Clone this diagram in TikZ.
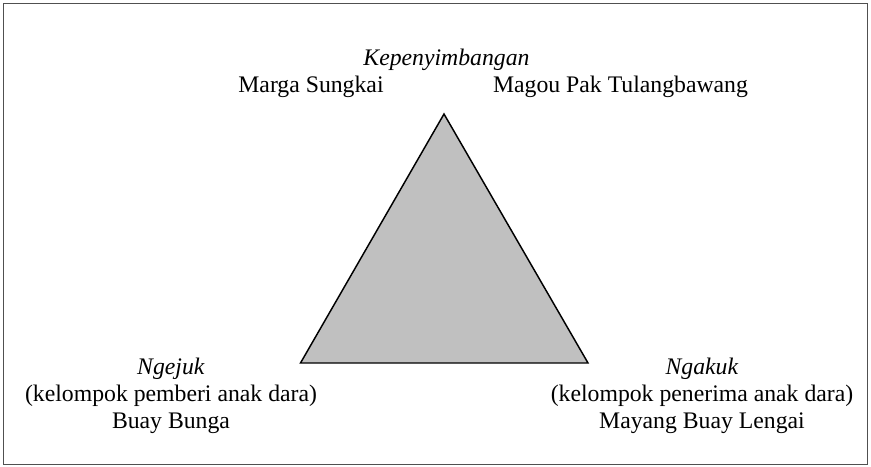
\documentclass[tikz,border=0pt]{standalone}
\usepackage{fontspec}
\setmainfont{Liberation Serif}
\usepackage{tikz}
\usetikzlibrary{
    positioning,
    calc
}
\definecolor{Tfill}{RGB}{192, 192, 192}
\definecolor{Fgray}{RGB}{80, 80, 80}
\tikzset{
    tlabel/.style={
        inner sep=0pt, align=center, text=black,
        font=\fontsize{17.8}{20.6}\selectfont
    },
    tri/.style={draw=black, line width=1.1pt, fill=Tfill, line join=miter},
    frame/.style={draw=Fgray, line width=1.1pt},
}

\begin{document}
\begin{tikzpicture}[x=0.75pt, y=-0.75pt]

    \useasboundingbox (0,0) rectangle (871,467);
    \draw [frame] (3.5,3.5) rectangle (867.5,464.5);

    % triangle corners
    \coordinate (top)   at (444,114);
    \coordinate (left)  at (300.5,363);
    \coordinate (right) at (588,363);
    \draw [tri] (top) -- (left) -- (right) -- cycle;

    \node [tlabel, anchor=base] (kep) at (446.5,65) {\textit{Kepenyimbangan}};
    \node [tlabel, anchor=base] (marga) at (311,92.5) {Marga Sungkai};
    \node [tlabel, anchor=base] (magou) at (620.5,92.5) {Magou Pak Tulangbawang};

    \node [tlabel, anchor=north] (ngejuk) at (171,357.3)
        {\textit{Ngejuk} \\ (kelompok pemberi anak dara) \\ Buay Bunga};
    \node [tlabel, anchor=north] (ngakuk) at (702,357.3)
        {\textit{Ngakuk} \\ (kelompok penerima anak dara) \\ Mayang Buay Lengai};

\end{tikzpicture}
\end{document}
